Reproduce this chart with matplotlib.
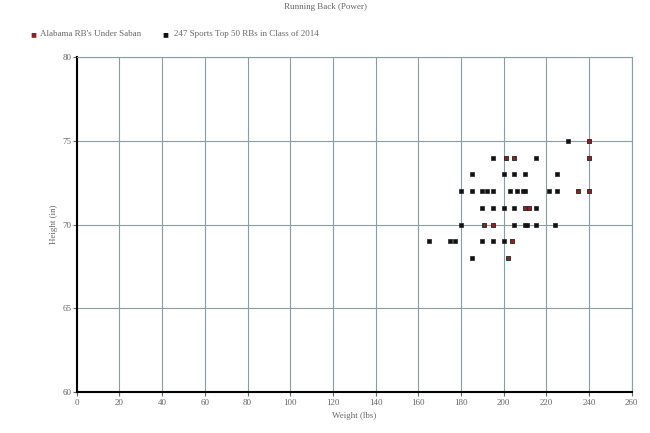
import matplotlib
matplotlib.use("Agg")
import matplotlib.pyplot as plt

# Alabama RBs under Saban (weight lbs, height in)
bama_weight = [240, 201, 205, 240, 235, 240, 210, 212, 191, 195, 204, 202]
bama_height = [75, 74, 74, 74, 72, 72, 71, 71, 70, 70, 69, 68]

# 247 Sports top 50 RBs, class of 2014
top50_weight = [230,
                195, 215,
                185, 200, 205, 210, 225,
                180, 185, 190, 192, 195, 203, 206, 209, 210, 221, 225,
                190, 195, 200, 205, 215,
                180, 205, 210, 211, 215, 224,
                165, 175, 177, 190, 195, 200,
                185]
top50_height = [75,
                74, 74,
                73, 73, 73, 73, 73,
                72, 72, 72, 72, 72, 72, 72, 72, 72, 72, 72,
                71, 71, 71, 71, 71,
                70, 70, 70, 70, 70, 70,
                69, 69, 69, 69, 69, 69,
                68]

x_ticks = list(range(0, 261, 20))
y_ticks = [60, 65, 70, 75, 80]

BAMA_RED = "#8b2323"
GRID     = "#8c9ca3"
TEXT     = "#666666"
FS       = 6.5

plt.rcParams.update({
    "font.family": "Liberation Serif",
    "font.size": FS,
})

fig = plt.figure(figsize=(6.5, 4.33), dpi=100)
ax = fig.add_axes([0.118, 0.095, 0.854, 0.773])

ax.scatter(top50_weight, top50_height, marker="s", s=11, color="#111111",
           edgecolors="#222222", linewidths=0.5, zorder=3,
           label="247 Sports Top 50 RBs in Class of 2014")
ax.scatter(bama_weight, bama_height, marker="s", s=11, color=BAMA_RED,
           edgecolors="#222222", linewidths=0.6, zorder=4,
           label="Alabama RB's Under Saban")

ax.set_xlim(0, 260)
ax.set_ylim(60, 80)
ax.set_xticks(x_ticks)
ax.set_yticks(y_ticks)
ax.grid(True, color=GRID, linewidth=0.8)
ax.set_axisbelow(True)

for side in ("top", "right"):
    ax.spines[side].set_color(GRID)
    ax.spines[side].set_linewidth(0.8)
for side in ("left", "bottom"):
    ax.spines[side].set_color("black")
    ax.spines[side].set_linewidth(1.5)

ax.tick_params(colors=TEXT, labelsize=FS, length=3, width=0.8)
ax.tick_params(axis="x", pad=2)
ax.tick_params(axis="y", pad=1)
ax.set_xlabel("Weight (lbs)", color=TEXT, fontsize=FS, labelpad=4)
ax.set_ylabel("Height (in)", color=TEXT, fontsize=FS, labelpad=3)

fig.text(0.5, 0.993, "Running Back (Power)", ha="center", va="top",
         color=TEXT, fontsize=FS)

# legend row above the plot
fig.text(0.051, 0.921, "\u25a0", color=BAMA_RED, fontsize=7, va="center", ha="center")
fig.text(0.062, 0.921, "Alabama RB's Under Saban", color=TEXT, fontsize=FS, va="center")
fig.text(0.254, 0.921, "\u25a0", color="#111111", fontsize=7, va="center", ha="center")
fig.text(0.268, 0.921, "247 Sports Top 50 RBs in Class of 2014", color=TEXT,
         fontsize=FS, va="center")

fig.savefig("out.png", dpi=100)
